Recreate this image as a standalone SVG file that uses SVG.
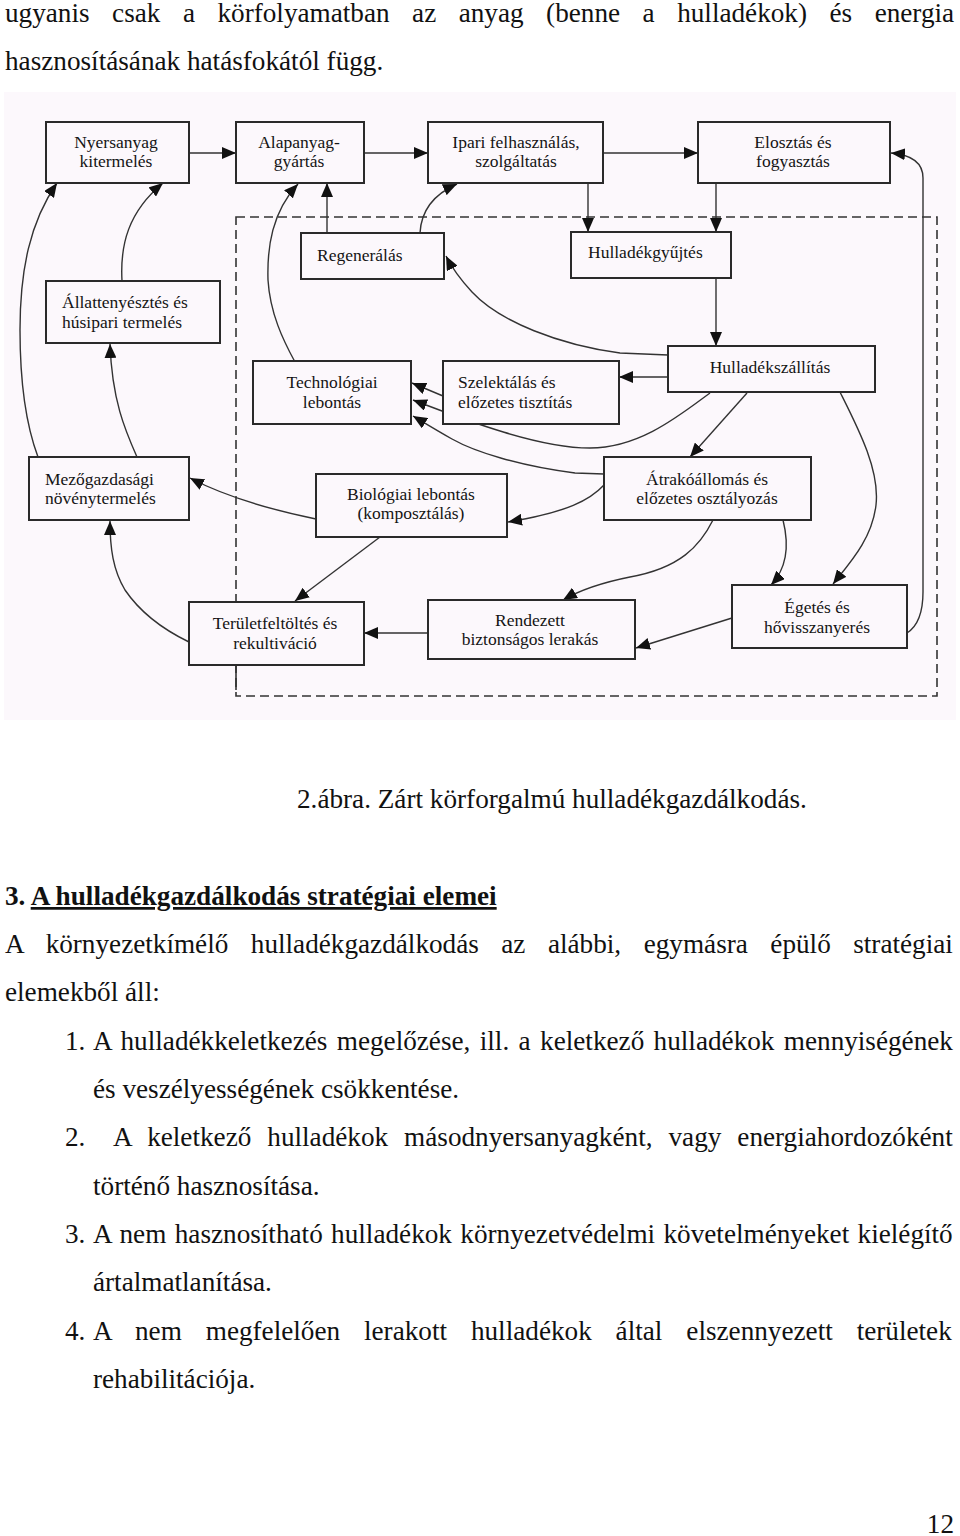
<svg xmlns="http://www.w3.org/2000/svg" width="960" height="1536" viewBox="0 0 960 1536">
<style>
.body{font-family:"Liberation Serif","Times New Roman",serif;font-size:27.2px;fill:#111}
.lbl{font-family:"Liberation Serif","Times New Roman",serif;font-size:17.5px;fill:#141414}
.c{text-anchor:middle}
.box{fill:#fcf8fc;stroke:#2a2a2a;stroke-width:2}
.con path,.con line{fill:none;stroke:#333;stroke-width:1.4}
.arr{marker-end:url(#ah)}
.dash{fill:none;stroke:#333;stroke-width:1.6;stroke-dasharray:9 5}
</style>
<defs>
<marker id="ah" markerUnits="userSpaceOnUse" markerWidth="14" markerHeight="12" refX="14" refY="6" orient="auto">
<path d="M0,0 L14,6 L0,12 z" fill="#111"/>
</marker>
</defs>
<rect x="0" y="0" width="960" height="1536" fill="#ffffff"/>

<!-- body text -->
<text class="body" x="5" y="22" word-spacing="15.7">ugyanis csak a körfolyamatban az anyag (benne a hulladékok) és energia</text>
<text class="body" x="5" y="70">hasznosításának hatásfokától függ.</text>

<!-- diagram background -->
<rect x="4" y="92" width="952" height="628" fill="#fcf8fc"/>

<!-- dashed frame -->
<g id="frame">
<rect class="dash" x="236" y="217" width="701" height="479"/>
<line x1="236" y1="665" x2="236" y2="690" stroke="#333" stroke-width="1.6"/>
</g>

<g class="con" id="connectors">
<path class="arr" d="M189,153 H236"/>
<path class="arr" d="M364,153 H428"/>
<path class="arr" d="M603,153 H698"/>
<path class="arr" d="M588,183 V232"/>
<path class="arr" d="M716,183 V232"/>
<path class="arr" d="M716,278 V346"/>
<path class="arr" d="M668,377 H619"/>
<path class="arr" d="M668,355 L620,353 C560,345 500,322 472,292 C460,279 452,268 446,256"/>
<path class="arr" d="M327,233 V183"/>
<path class="arr" d="M420,233 C421,214 430,196 457,184"/>
<path class="arr" d="M295,362 C283,340 270,313 268,280 C267,247 272,212 298,184"/>
<path class="arr" d="M443,396 L412,383"/>
<path class="arr" d="M710,393 C680,415 640,448 590,448 C540,448 470,422 413,400"/>
<path class="arr" d="M604,474 L575,473 C520,466 475,452 452,439 C436,430 423,422 413,416"/>
<path class="arr" d="M747,393 L690,457"/>
<path class="arr" d="M840,392 C858,428 880,470 876,505 C872,540 848,565 833,584"/>
<path class="arr" d="M604,485 C590,500 568,512 508,522"/>
<path class="arr" d="M713,520 C700,546 680,568 630,577 C600,583 580,590 563,600"/>
<path class="arr" d="M783,520 C788,540 789,566 771,585"/>
<path class="arr" d="M732,618 L636,648"/>
<path class="arr" d="M907,633 C918,626 923,612 923,592 V178 C923,165 914,155 891,153"/>
<path class="arr" d="M428,633 H364"/>
<path class="arr" d="M380,537 L295,601"/>
<path class="arr" d="M316,519 C282,512 232,500 190,478"/>
<path class="arr" d="M189,642 C160,628 140,612 125,590 C113,570 110,548 110,521"/>
<path class="arr" d="M137,457 C125,430 112,400 110,344"/>
<path class="arr" d="M38,457 C26,425 20,385 20,330 C20,270 30,222 57,183"/>
<path class="arr" d="M122,281 C120,245 128,212 163,183"/>
</g>

<g id="n-nyersanyag"><rect class="box" x="46" y="122" width="143" height="61"/>
<text class="lbl c" x="116" y="148">Nyersanyag</text><text class="lbl c" x="116" y="167">kitermelés</text></g>
<g id="n-alapanyag"><rect class="box" x="236" y="122" width="128" height="61"/>
<text class="lbl c" x="299" y="148">Alapanyag-</text><text class="lbl c" x="299" y="167">gyártás</text></g>
<g id="n-ipari"><rect class="box" x="428" y="122" width="175" height="61"/>
<text class="lbl c" x="516" y="148">Ipari felhasználás,</text><text class="lbl c" x="516" y="167">szolgáltatás</text></g>
<g id="n-elosztas"><rect class="box" x="698" y="122" width="192" height="61"/>
<text class="lbl c" x="793" y="148">Elosztás és</text><text class="lbl c" x="793" y="167">fogyasztás</text></g>
<g id="n-regeneralas"><rect class="box" x="301" y="233" width="143" height="46"/>
<text class="lbl" x="317" y="261">Regenerálás</text></g>
<g id="n-gyujtes"><rect class="box" x="571" y="232" width="160" height="46"/>
<text class="lbl" x="588" y="258">Hulladékgyűjtés</text></g>
<g id="n-allattenyesztes"><rect class="box" x="46" y="281" width="174" height="62"/>
<text class="lbl" x="62" y="308">Állattenyésztés és</text><text class="lbl" x="62" y="328">húsipari termelés</text></g>
<g id="n-technologiai"><rect class="box" x="253" y="361" width="158" height="63"/>
<text class="lbl c" x="332" y="388">Technológiai</text><text class="lbl c" x="332" y="408">lebontás</text></g>
<g id="n-szelektalas"><rect class="box" x="443" y="361" width="176" height="63"/>
<text class="lbl" x="458" y="388">Szelektálás és</text><text class="lbl" x="458" y="408">előzetes tisztítás</text></g>
<g id="n-szallitas"><rect class="box" x="668" y="346" width="207" height="46"/>
<text class="lbl c" x="770" y="373">Hulladékszállítás</text></g>
<g id="n-mezogazdasagi"><rect class="box" x="29" y="457" width="160" height="63"/>
<text class="lbl" x="45" y="485">Mezőgazdasági</text><text class="lbl" x="45" y="504">növénytermelés</text></g>
<g id="n-biologiai"><rect class="box" x="316" y="474" width="191" height="63"/>
<text class="lbl c" x="411" y="500">Biológiai lebontás</text><text class="lbl c" x="411" y="519">(komposztálás)</text></g>
<g id="n-atrako"><rect class="box" x="604" y="457" width="207" height="63"/>
<text class="lbl c" x="707" y="485">Átrakóállomás és</text><text class="lbl c" x="707" y="504">előzetes osztályozás</text></g>
<g id="n-teruletfeltoltes"><rect class="box" x="189" y="602" width="175" height="63"/>
<text class="lbl c" x="275" y="629">Területfeltöltés és</text><text class="lbl c" x="275" y="649">rekultiváció</text></g>
<g id="n-rendezett"><rect class="box" x="428" y="600" width="207" height="59"/>
<text class="lbl c" x="530" y="626">Rendezett</text><text class="lbl c" x="530" y="645">biztonságos lerakás</text></g>
<g id="n-egetes"><rect class="box" x="732" y="585" width="175" height="63"/>
<text class="lbl c" x="817" y="613">Égetés és</text><text class="lbl c" x="817" y="633">hővisszanyerés</text></g>

<!-- caption and following text -->
<text class="body" x="297" y="808">2.ábra. Zárt körforgalmú hulladékgazdálkodás.</text>
<text class="body" x="5" y="905" font-weight="bold">3. <tspan text-decoration="underline">A hulladékgazdálkodás stratégiai elemei</tspan></text>
<text class="body" x="5" y="953" word-spacing="15.7">A környezetkímélő hulladékgazdálkodás az alábbi, egymásra épülő stratégiai</text>
<text class="body" x="5" y="1001">elemekből áll:</text>
<text class="body" x="65" y="1050">1.</text>
<text class="body" x="93" y="1050" word-spacing="2.6">A hulladékkeletkezés megelőzése, ill. a keletkező hulladékok mennyiségének</text>
<text class="body" x="93" y="1098">és veszélyességének csökkentése.</text>
<text class="body" x="65" y="1146">2.</text>
<text class="body" x="113" y="1146" word-spacing="9.2">A keletkező hulladékok másodnyersanyagként, vagy energiahordozóként</text>
<text class="body" x="93" y="1195">történő hasznosítása.</text>
<text class="body" x="65" y="1243">3.</text>
<text class="body" x="93" y="1243" word-spacing="1.6">A nem hasznosítható hulladékok környezetvédelmi követelményeket kielégítő</text>
<text class="body" x="93" y="1291">ártalmatlanítása.</text>
<text class="body" x="65" y="1340">4.</text>
<text class="body" x="93" y="1340" word-spacing="17.1">A nem megfelelően lerakott hulladékok által elszennyezett területek</text>
<text class="body" x="93" y="1388">rehabilitációja.</text>
<text class="body" x="954" y="1533" font-size="20" text-anchor="end">12</text>
</svg>
